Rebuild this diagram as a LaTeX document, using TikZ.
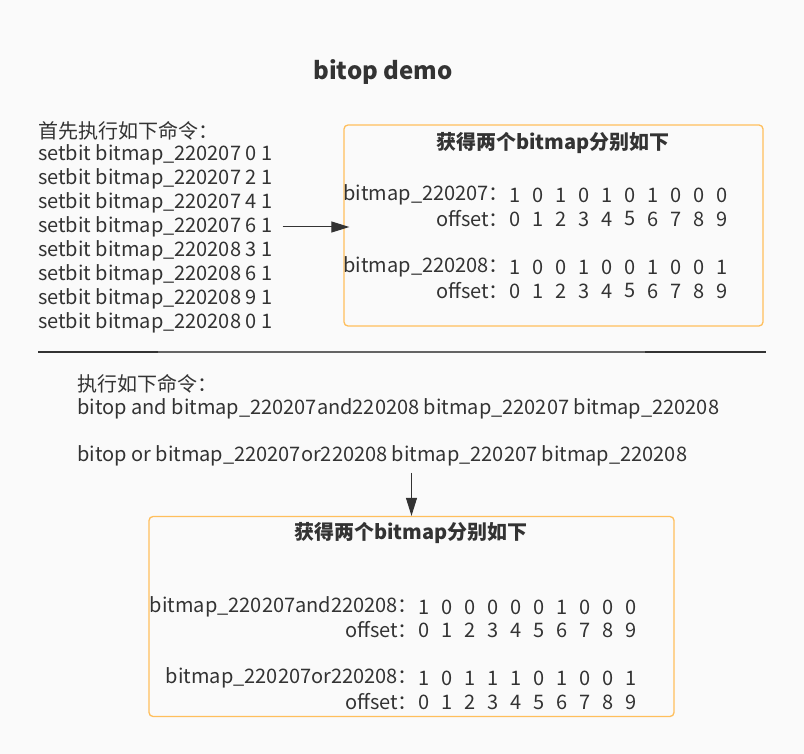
\documentclass[tikz,border=0pt]{standalone}
\usepackage{fontspec}
\setmainfont{Noto Sans CJK SC}
\usetikzlibrary{arrows.meta}
\definecolor{txt}{RGB}{51,51,51}
\definecolor{boxline}{RGB}{255,191,92}
\definecolor{bg}{RGB}{250,250,250}
\definecolor{rulegray}{RGB}{100,100,100}
\newcommand{\halfcolon}{\makebox[0.5em][l]{：}}

\begin{document}
\begin{tikzpicture}[x=1pt,y=-1pt]
\tikzstyle{txtnode} = [text=txt,font=\fontsize{20}{24}\selectfont,inner sep=0pt,anchor=west]
\tikzstyle{rowname} = [text=txt,font=\fontsize{20}{24}\selectfont,inner sep=0pt,anchor=east]
\tikzstyle{bit} = [text=txt,font=\fontsize{20}{24}\selectfont,inner sep=0pt]
\tikzstyle{heading} = [text=txt,font=\bfseries\fontsize{20}{24}\selectfont,inner sep=0pt]
\tikzstyle{resbox} = [draw=boxline,line width=1.3pt,rounded corners=4pt,fill=bg]
\tikzstyle{arr} = [draw=txt,line width=1pt,-{Triangle[length=18pt,width=11pt]}]

\fill[bg] (0,0) rectangle (804,754);

\node[heading,font=\bfseries\fontsize{24}{28}\selectfont] (title) at (383,72) {bitop demo};

% setbit commands
\node[txtnode] (c0) at (38,131) {首先执行如下命令：};
\foreach \t [count=\i] in {bitmap\_220207 0 1,bitmap\_220207 2 1,bitmap\_220207 4 1,bitmap\_220207 6 1,
    bitmap\_220208 3 1,bitmap\_220208 6 1,bitmap\_220208 9 1,bitmap\_220208 0 1}
  \node[txtnode] (c\i) at (38,131+24*\i) {setbit \t};

\node[resbox,minimum width=419pt,minimum height=201pt] (box1) at (553.5,225.5) {};
\node[heading] (t1) at (553,143) {获得两个bitmap分别如下};
\node[rowname] (r1) at (499,195) {bitmap\_220207\halfcolon};
\node[rowname] (o1) at (499,219) {offset\halfcolon};
\node[rowname] (r2) at (499,267) {bitmap\_220208\halfcolon};
\node[rowname] (o2) at (499,291) {offset\halfcolon};
\foreach \v [count=\i from 0] in {1,0,1,0,1,0,1,0,0,0} {
  \node[bit] (r1b\i) at (515+23*\i,195) {\v};
  \node[bit] (o1b\i) at (515+23*\i,219) {\i};
}
\foreach \v [count=\i from 0] in {1,0,0,1,0,0,1,0,0,1} {
  \node[bit] (r2b\i) at (515+23*\i,267) {\v};
  \node[bit] (o2b\i) at (515+23*\i,291) {\i};
}

\draw[arr] ([xshift=10pt]c4.east) -- ([xshift=6pt]c4.east -| box1.west);

% separator
\coordinate (s1) at (38,352);
\coordinate (s2) at (158,352);
\coordinate (s3) at (645,352);
\coordinate (s4) at (766,352);
\draw[txt,line width=1.5pt] (s1) -- (s2);
\draw[rulegray,line width=1.5pt] (s2) -- (s3);
\draw[txt,line width=1.5pt] (s3) -- (s4);

% bitop commands
\node[txtnode] (d0) at (77,384) {执行如下命令：};
\node[txtnode] (d1) at (77,409) {bitop and bitmap\_220207and220208 bitmap\_220207 bitmap\_220208};
\node[txtnode] (d2) at (77,456) {bitop or bitmap\_220207or220208 bitmap\_220207 bitmap\_220208};

\node[resbox,minimum width=525pt,minimum height=200pt] (box2) at (411.5,616.5) {};
\node[heading] (t2) at (411,533) {获得两个bitmap分别如下};
\node[rowname] (r3) at (408,607) {bitmap\_220207and220208\halfcolon};
\node[rowname] (o3) at (408,630) {offset\halfcolon};
\node[rowname] (r4) at (408,678) {bitmap\_220207or220208\halfcolon};
\node[rowname] (o4) at (408,702) {offset\halfcolon};
\foreach \v [count=\i from 0] in {1,0,0,0,0,0,1,0,0,0} {
  \node[bit] (r3b\i) at (424+23*\i,607) {\v};
  \node[bit] (o3b\i) at (424+23*\i,630) {\i};
}
\foreach \v [count=\i from 0] in {1,0,1,1,1,0,1,0,0,1} {
  \node[bit] (r4b\i) at (424+23*\i,678) {\v};
  \node[bit] (o4b\i) at (424+23*\i,702) {\i};
}

\coordinate (a0) at ([yshift=43pt]box2.north);
\draw[arr] (a0) -- (box2.north);
\end{tikzpicture}
\end{document}
